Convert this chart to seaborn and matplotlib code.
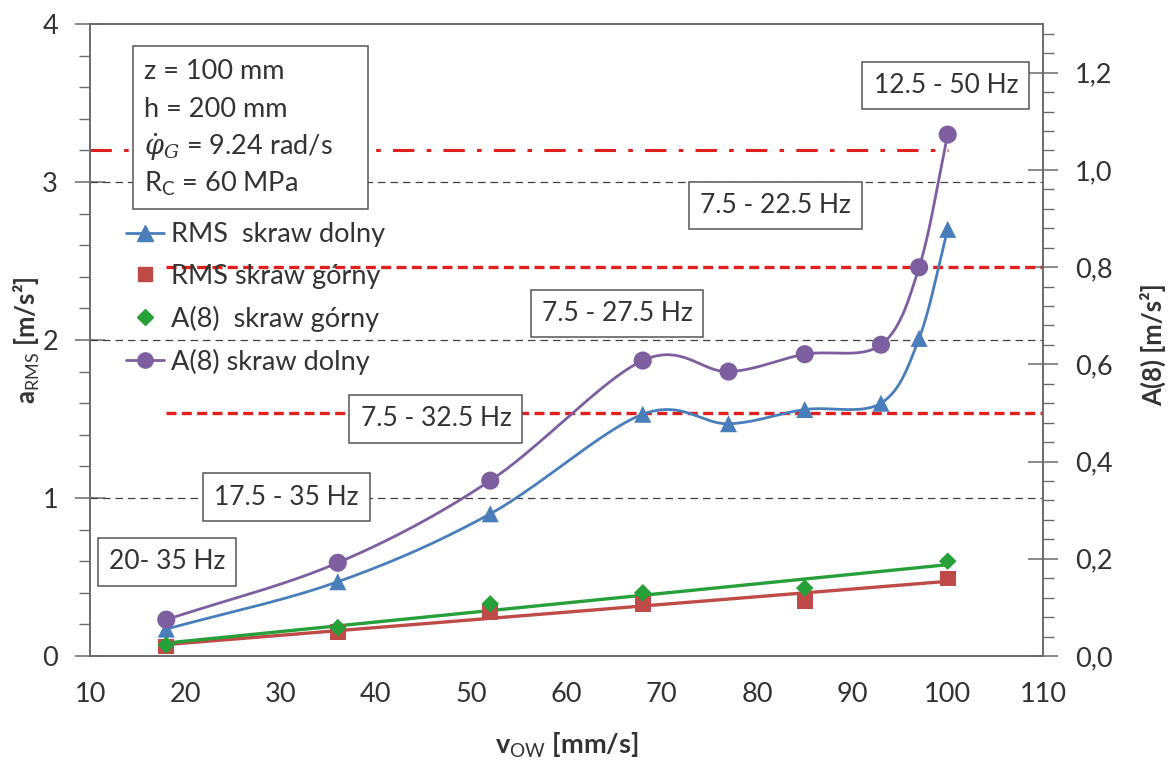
import numpy as np
import pandas as pd
import matplotlib
matplotlib.use("Agg")
import matplotlib.pyplot as plt
import seaborn as sns
from matplotlib.lines import Line2D
from matplotlib.patches import Rectangle
from matplotlib.ticker import MultipleLocator, FuncFormatter, FixedLocator

# ---------------- data ----------------
speed_dolny = [18, 36, 52, 68, 77, 85, 93, 97, 100]
rms_dolny = [0.17, 0.47, 0.90, 1.53, 1.47, 1.56, 1.60, 2.01, 2.70]
a8_dolny = [0.23, 0.59, 1.11, 1.87, 1.80, 1.91, 1.97, 2.46, 3.30]

speed_gorny = [18, 36, 52, 68, 85, 100]
rms_gorny = [0.06, 0.15, 0.28, 0.33, 0.35, 0.49]
a8_gorny = [0.07, 0.18, 0.33, 0.40, 0.43, 0.60]

series_labels = ["RMS  skraw dolny", "RMS skraw górny", "A(8)  skraw górny", "A(8) skraw dolny"]

band_labels = ["12.5 - 50 Hz", "7.5 - 22.5 Hz", "7.5 - 27.5 Hz",
               "7.5 - 32.5 Hz", "17.5 - 35 Hz", "20- 35 Hz"]
grid_levels = [1, 2, 3]            # left axis, black dashed
limit_a8 = [0.8, 0.5]              # right axis, red dashed
limit_dashdot = 3.2                # left axis, red dash-dot

param_lines = ["z = 100 mm", "h = 200 mm",
               r"$\dot{\varphi}_G$ = 9.24 rad/s", r"R$_\mathrm{C}$ = 60 MPa"]

x_ticks = [10, 20, 30, 40, 50, 60, 70, 80, 90, 100, 110]
left_ticks = [0, 1, 2, 3, 4]
right_ticks = [0.0, 0.2, 0.4, 0.6, 0.8, 1.0, 1.2]

# ---------------- style ----------------
sns.set_theme(style="white")
plt.rcParams["font.family"] = ["Lato", "DejaVu Sans"]
plt.rcParams["mathtext.fontset"] = "custom"
plt.rcParams["mathtext.rm"] = "Lato"
plt.rcParams["mathtext.it"] = "DejaVu Serif:italic"

FS = 19.5
BLUE = "#4a7ebb"
RED = "#be4b48"
GREEN = "#27a03a"
PURPLE = "#7d5fa0"
DARK = "#404040"
SPINE = "#6b6b6b"
TXT = "#333333"


def smooth(x, y, sx=9.53, sy=158.0, n=40):
    """Catmull-Rom smoothing (Excel-like smoothed line) in display-like units."""
    pts = np.column_stack([np.asarray(x, float) * sx, np.asarray(y, float) * sy])
    P = np.vstack([2 * pts[0] - pts[1], pts, 2 * pts[-1] - pts[-2]])
    out = []
    t = np.linspace(0, 1, n)[:, None]
    for i in range(1, len(P) - 2):
        p0, p1, p2, p3 = P[i - 1], P[i], P[i + 1], P[i + 2]
        seg = 0.5 * (2 * p1 + (-p0 + p2) * t + (2 * p0 - 5 * p1 + 4 * p2 - p3) * t ** 2
                     + (-p0 + 3 * p1 - 3 * p2 + p3) * t ** 3)
        out.append(seg if i == 1 else seg[1:])
    s = np.vstack(out)
    return s[:, 0] / sx, s[:, 1] / sy


fig = plt.figure(figsize=(11.73, 7.62), dpi=100)
ax = fig.add_axes([90 / 1173, 1 - 656 / 762, 953 / 1173, 632 / 762])
ax2 = ax.twinx()
ax.set_zorder(ax2.get_zorder() + 1)
ax.patch.set_visible(False)

# reference lines
for lv in grid_levels:
    ax.axhline(lv, color=DARK, lw=0.9, ls=(0, (6, 4)), zorder=1)
ax.plot([10, 100], [limit_dashdot, limit_dashdot], color="#e0201e", lw=2.2,
        ls=(0, (7, 4, 1.5, 4)), zorder=1)
for lv in limit_a8:
    ax.plot([18, 110], [lv, lv], color="#e0201e", lw=2.4, ls=(0, (3, 1.6)),
            transform=ax2.transData, zorder=1)

# smoothed curves
bx, by = smooth(speed_dolny, rms_dolny)
px, py = smooth(speed_dolny, a8_dolny)
sns.lineplot(x=bx, y=by, ax=ax, sort=False, estimator=None, color=BLUE, lw=2.0, zorder=3)
sns.lineplot(x=px, y=py, ax=ax, sort=False, estimator=None, color=PURPLE, lw=2.0, zorder=3)

# linear trend lines
sns.regplot(x=speed_gorny, y=rms_gorny, ax=ax, scatter=False, ci=None,
            line_kws=dict(color=RED, lw=2.4, zorder=3))
sns.regplot(x=speed_gorny, y=a8_gorny, ax=ax, scatter=False, ci=None,
            line_kws=dict(color=GREEN, lw=2.4, zorder=3))

# markers
sns.scatterplot(x=speed_dolny, y=rms_dolny, ax=ax, marker="^", s=150, color=BLUE,
                edgecolor="none", zorder=4)
sns.scatterplot(x=speed_gorny, y=rms_gorny, ax=ax, marker="s", s=130, color=RED,
                edgecolor="none", zorder=4)
sns.scatterplot(x=speed_gorny, y=a8_gorny, ax=ax, marker="D", s=80, color=GREEN,
                edgecolor="none", zorder=4)
sns.scatterplot(x=speed_dolny, y=a8_dolny, ax=ax, marker="o", s=170, color=PURPLE,
                edgecolor="none", zorder=4)

# axes limits and ticks
ax.set_xlim(10, 110)
ax.set_ylim(0, 4)
ax2.set_ylim(0, 1.3)
ax.xaxis.set_major_locator(FixedLocator(x_ticks))
ax.xaxis.set_minor_locator(MultipleLocator(2))
ax.yaxis.set_major_locator(FixedLocator(left_ticks))
ax.yaxis.set_minor_locator(MultipleLocator(0.2))
ax2.yaxis.set_major_locator(FixedLocator(right_ticks))
ax2.yaxis.set_minor_locator(MultipleLocator(0.04))
ax2.yaxis.set_major_formatter(FuncFormatter(lambda v, p: f"{v:.1f}".replace(".", ",")))
ax.yaxis.set_major_formatter(FuncFormatter(lambda v, p: f"{v:.0f}"))

for a in (ax, ax2):
    for sp in a.spines.values():
        sp.set_color(SPINE)
        sp.set_linewidth(1.2)
ax.tick_params(axis="both", which="major", direction="inout", length=14, width=1.1,
               color=SPINE, labelsize=FS, labelcolor=TXT, pad=6)
ax.tick_params(axis="x", which="minor", direction="in", length=7, width=1.0, color=SPINE)
ax.tick_params(axis="y", which="minor", direction="out", length=8, width=1.0, color=SPINE)
ax.tick_params(axis="y", which="major", length=22, pad=12)
ax.tick_params(axis="x", which="major", pad=12)
ax2.tick_params(axis="y", which="major", direction="inout", length=22, width=1.1,
                color=SPINE, labelsize=FS, labelcolor=TXT, pad=12)
ax2.tick_params(axis="y", which="minor", direction="out", length=8, width=1.0, color=SPINE)

ax.set_xlabel(r"v$_\mathrm{OW}$ [mm/s]", fontsize=FS, fontweight="bold", color=TXT)
ax.set_ylabel(r"a$_\mathrm{RMS}$ [m/s²]", fontsize=FS - 1, fontweight="bold", color=TXT)
ax2.set_ylabel("A(8) [m/s²]", fontsize=FS - 1, fontweight="bold", color=TXT)
ax.xaxis.set_label_coords((567 - 90) / 953, (656 - 745) / 632)
ax.yaxis.set_label_coords((27 - 90) / 953, 0.5)
ax2.yaxis.set_label_coords((1153 - 90) / 953, (656 - 345) / 632)
ax.xaxis.label.set_va("center")
ax.yaxis.label.set_va("center")
ax2.yaxis.label.set_va("center")

# frequency band boxes
band_x = [99.8, 81.9, 65.3, 46.3, 30.6, 18.1]
band_y = [3.61, 2.85, 2.17, 1.50, 1.006, 0.595]
for lab, bxp, byp in zip(band_labels, band_x, band_y):
    ax.text(bxp, byp, lab, ha="center", va="center", fontsize=FS - 0.5, color=TXT,
            zorder=6,
            bbox=dict(boxstyle="square,pad=0.42", fc="white", ec="#555555", lw=1.1))

# parameter box
ax.add_patch(Rectangle((14.5, (656 - 209) / 158), (368 - 133) / 9.53, (209 - 46) / 158,
                       fc="white", ec="#555555", lw=1.1, zorder=6))
param_y = [3.70, 3.46, 3.22, 2.99]
for txt, yy in zip(param_lines, param_y):
    ax.text(15.7, yy, txt, ha="left", va="center", fontsize=FS, color=TXT, zorder=7)

# legend
handles = [
    Line2D([], [], color=BLUE, marker="^", markersize=11, lw=2),
    Line2D([], [], color=RED, marker="s", markersize=10, ls="none"),
    Line2D([], [], color=GREEN, marker="D", markersize=8, ls="none"),
    Line2D([], [], color=PURPLE, marker="o", markersize=11, lw=2),
]
leg = ax.legend(handles, series_labels, loc="upper left",
                bbox_to_anchor=((126 - 90) / 953, (656 - 222) / 632),
                frameon=False, fontsize=FS, handlelength=1.4, handletextpad=0.25,
                labelspacing=0.62, borderpad=0, borderaxespad=0)
for t in leg.get_texts():
    t.set_color(TXT)

fig.savefig("out.png", dpi=100)
